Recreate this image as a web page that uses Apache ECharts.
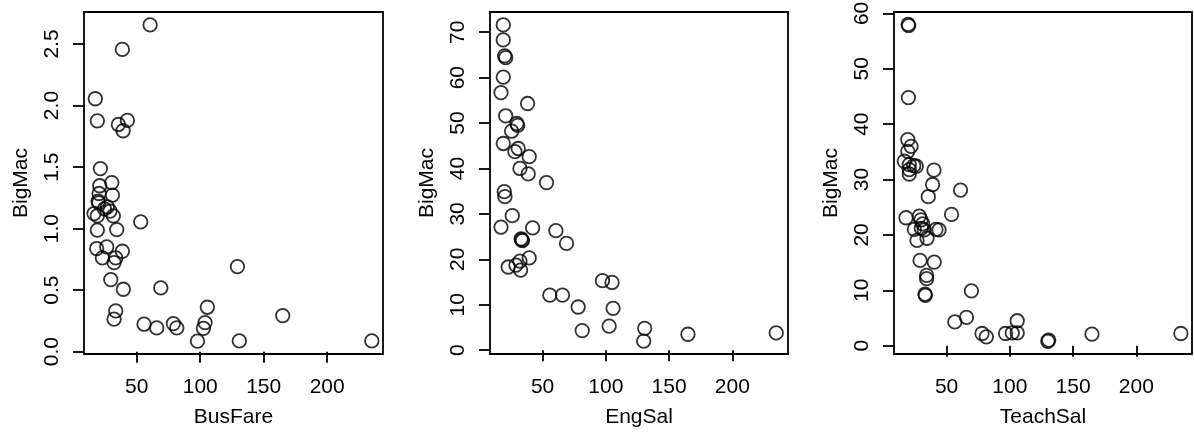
<!DOCTYPE html>
<html>
<head>
<meta charset="utf-8">
<script src="https://cdn.jsdelivr.net/npm/echarts@6/dist/echarts.min.js"></script>
<style>
html,body{margin:0;padding:0;background:#fff;}
#chart{width:1194px;height:432px;}
</style>
</head>
<body>
<div id="chart"></div>
<script>
// ---- data ----
const busFare = [60.5,38.6,17.3,18.9,35.5,42.6,39.2,21.3,30.3,20.8,30.8,20.3,19.5,26.8,28.9,16.3,18.9,31.5,18.9,34.2,53.1,18.4,26.3,22.9,33.4,38.6,32.1,29.5,39.4,68.9,33.4,32.1,55.7,65.7,78.8,81.5,97.8,105.6,103.8,102.5,129.3,165.0,130.8,235.2,20.0,24.5];
const bigMacBus = [2.655,2.456,2.055,1.876,1.846,1.879,1.795,1.488,1.374,1.348,1.272,1.285,1.223,1.177,1.142,1.122,1.104,1.104,0.987,0.992,1.055,0.838,0.852,0.762,0.762,0.816,0.724,0.586,0.507,0.518,0.331,0.264,0.223,0.193,0.228,0.193,0.085,0.361,0.236,0.19,0.691,0.293,0.087,0.087,1.21,1.16];

const engSal = [18.9,18.9,20.0,20.8,18.9,17.1,38.1,20.8,29.6,30.3,25.5,18.9,28.1,30.7,39.4,32.1,38.6,53.1,19.7,20.2,26.0,17.1,42.1,33.0,34.0,33.6,60.5,68.9,39.4,22.8,28.9,32.1,32.6,55.7,65.7,78.1,81.3,97.3,104.9,105.7,102.6,130.7,129.9,164.9,234.7];
const bigMacEng = [71.6,68.3,64.8,64.4,60.1,56.7,54.3,51.6,49.9,49.5,48.2,45.5,43.7,44.4,42.6,40.0,38.8,36.9,34.9,33.8,29.6,27.1,26.9,24.5,24.1,24.3,26.3,23.5,20.3,18.3,18.7,19.6,17.6,12.1,12.1,9.5,4.3,15.3,14.9,9.2,5.3,4.8,2.0,3.5,3.8];

const teachSal = [19.6,20.0,19.8,19.3,21.9,19.3,16.6,20.5,24.0,26.0,20.5,20.5,40.0,38.9,35.5,61.0,53.9,17.9,28.4,29.7,31.1,24.5,30.0,32.3,41.6,44.0,26.6,34.5,29.0,40.2,34.2,34.2,32.9,33.2,69.6,56.5,65.7,78.0,81.4,96.6,101.9,105.8,105.8,130.7,130.0,164.9,235.2];
const bigMacTeach = [58.0,57.8,44.8,37.2,36.0,35.1,33.3,32.7,32.5,32.4,31.8,31.0,31.7,29.1,26.9,28.1,23.7,23.1,23.4,22.7,22.0,21.0,21.2,20.9,21.0,20.9,19.0,19.4,15.4,15.1,12.7,12.1,9.3,9.1,9.9,4.3,5.1,2.2,1.6,2.2,2.3,2.3,4.5,1.0,0.8,2.1,2.2];

const xTicks = [50, 100, 150, 200];
const yTicksBus = [0, 0.5, 1.0, 1.5, 2.0, 2.5];
const yTicksEng = [0, 10, 20, 30, 40, 50, 60, 70];
const yTicksTeach = [0, 10, 20, 30, 40, 50, 60];
const xNames = ['BusFare', 'EngSal', 'TeachSal'];
const yName = 'BigMac';

// ---- chart ----
const FONT = 'Liberation Sans, Arial, Helvetica, sans-serif';
const FS = 21;
const panels = [
  {x: busFare, y: bigMacBus, yTicks: yTicksBus, yMin: -0.019, yMax: 2.760, fmt: v => v.toFixed(1), left: 84, width: 299},
  {x: engSal, y: bigMacEng, yTicks: yTicksEng, yMin: -0.85, yMax: 74.45, fmt: v => String(v), left: 490, width: 298},
  {x: teachSal, y: bigMacTeach, yTicks: yTicksTeach, yMin: -1.5, yMax: 60.25, fmt: v => String(v), left: 894, width: 298}
];

const grid = [], xAxis = [], yAxis = [], series = [];
panels.forEach((p, i) => {
  grid.push({left: p.left, top: 12, width: p.width, height: 342, show: true,
    borderColor: '#000', borderWidth: 1.8, backgroundColor: 'transparent', outerBoundsMode: 'none'});
  xAxis.push({
    type: 'value', gridIndex: i, min: 8.4, max: 244,
    name: xNames[i], nameLocation: 'middle', nameGap: 53,
    nameTextStyle: {fontFamily: FONT, fontSize: FS, color: '#000'},
    axisLine: {show: false}, splitLine: {show: false},
    axisTick: {show: true, inside: false, length: 11, customValues: xTicks, lineStyle: {color: '#000', width: 1.8}},
    axisLabel: {show: true, customValues: xTicks, margin: 23, fontFamily: FONT, fontSize: FS, color: '#000'}
  });
  yAxis.push({
    type: 'value', gridIndex: i, min: p.yMin, max: p.yMax,
    name: yName, nameLocation: 'middle', nameGap: 52, nameRotate: 90,
    nameTextStyle: {fontFamily: FONT, fontSize: FS, color: '#000'},
    axisLine: {show: false}, splitLine: {show: false},
    axisTick: {show: true, inside: false, length: 11, customValues: p.yTicks, lineStyle: {color: '#000', width: 1.8}},
    axisLabel: {show: true, customValues: p.yTicks, rotate: 90, margin: 21, fontFamily: FONT, fontSize: FS, color: '#000',
      formatter: p.fmt}
  });
  series.push({
    type: 'scatter', xAxisIndex: i, yAxisIndex: i,
    data: p.x.map((v, k) => [v, p.y[k]]),
    symbol: 'circle', symbolSize: 13.5,
    itemStyle: {color: 'rgba(0,0,0,0)', borderColor: '#000', borderWidth: 1.8},
    silent: true, clip: false
  });
});

const chart = echarts.init(document.getElementById('chart'), null, {renderer: 'canvas'});
chart.setOption({
  animation: false,
  backgroundColor: '#fff',
  grid, xAxis, yAxis, series
});
</script>
</body>
</html>
